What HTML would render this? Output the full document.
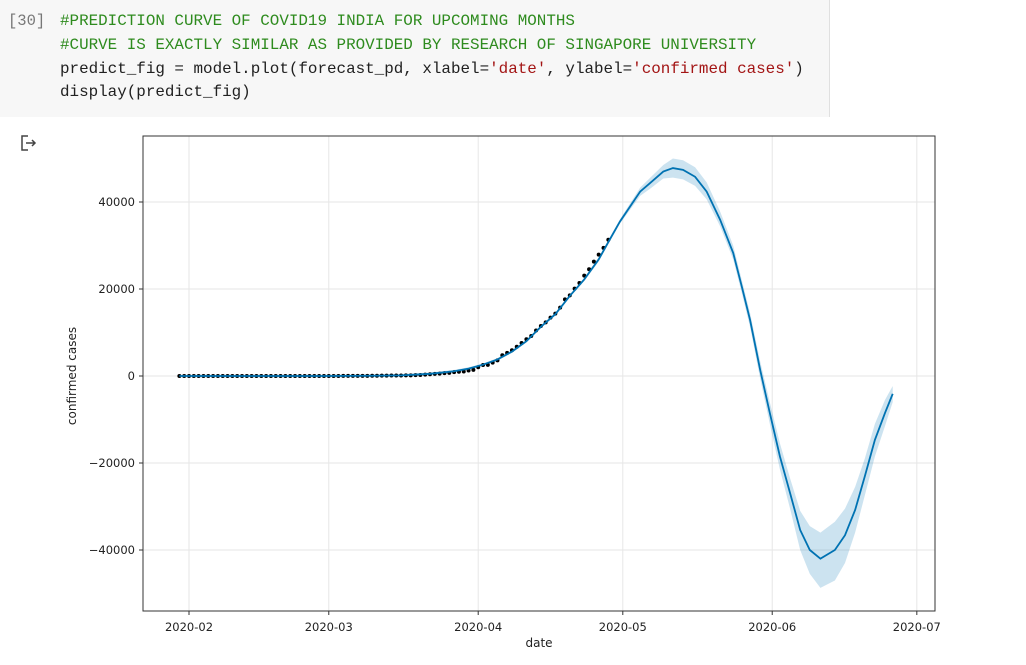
<!DOCTYPE html>
<html><head><meta charset="utf-8"><style>
body{margin:0;width:1026px;height:665px;background:#fff;overflow:hidden;position:relative;font-family:"Liberation Sans",sans-serif}
#cell{position:absolute;left:0;top:0;width:829px;height:117px;background:#f7f7f7;border-right:1px solid #e0e0e0}
.ln{position:absolute;left:60px;font-family:"Liberation Mono",monospace;font-size:15.9px;white-space:pre;color:#212121}
.c{color:#2e8b1e}.s{color:#a31515}
#num{position:absolute;left:8px;top:12px;font-family:"Liberation Mono",monospace;font-size:15.5px;color:#777}
svg{position:absolute;left:0;top:0}
</style></head><body>
<div id="cell">
<div id="num">[30]</div>
<div class="ln c" style="top:12px">#PREDICTION CURVE OF COVID19 INDIA FOR UPCOMING MONTHS</div>
<div class="ln c" style="top:36px">#CURVE IS EXACTLY SIMILAR AS PROVIDED BY RESEARCH OF SINGAPORE UNIVERSITY</div>
<div class="ln" style="top:60px">predict_fig = model.plot(forecast_pd, xlabel=<span class="s">'date'</span>, ylabel=<span class="s">'confirmed cases'</span>)</div>
<div class="ln" style="top:83px">display(predict_fig)</div>
</div>
<svg width="1026" height="665" id="chart">
<g fill="none" stroke="#444" stroke-width="1.5"><path d="M28 136 H22 V150 H28"/><path d="M26 143 H35 M32 140 L35 143 L32 146"/></g>
</svg>
<script>
const obsDays=[];for(let d=-2;d<=87;d++)obsDays.push(d);
const obsVals=[1,1,1,2,3,3,3,3,3,3,3,3,3,3,3,3,3,3,3,3,3,3,3,3,3,3,3,3,3,3,3,
3,5,6,28,30,31,34,39,43,56,62,73,82,102,113,119,142,156,194,244,330,396,499,536,657,727,887,987,1024,1251,1397,
1998,2543,2567,3082,3588,4778,5311,5916,6725,7598,8446,9205,10453,11487,12322,13430,14352,15722,17615,18539,20080,21370,23077,24530,26283,27890,29451,31324];
const fcDays=[-2,28,38,44,50,55,58,61,64,67,70,73,76,79,82,85,87,89.4,93.6,95.6,98.4,100.4,102.5,105,107.4,110.2,112.9,114.7,116.4,118.5,120.5,122.6,124.7,126.8,128.8,131,134,136.1,138.2,140.2,142.3,144.4,146];
const fcVals=[0,0,50,150,500,1100,1700,2600,3800,5600,8000,11300,14200,18400,22200,26800,30800,35500,42400,44300,47000,47800,47400,45800,42400,35900,28300,20500,12900,1400,-8500,-18500,-26900,-35400,-40000,-42000,-40000,-36600,-30800,-23100,-14700,-8500,-4100];
const fcLower=[-300,-300,-250,-150,200,800,1400,2300,3500,5300,7700,11000,13900,18100,21800,26300,30300,35000,41400,43000,45400,45600,45200,43700,40600,34400,26800,19000,11300,-600,-11000,-21500,-30500,-40000,-45500,-48700,-47000,-43000,-36000,-27500,-18500,-11500,-6000];
const fcUpper=[300,300,350,450,800,1400,2000,2900,4100,5900,8300,11600,14500,18700,22600,27300,31300,36000,43300,45500,48500,50000,49600,48000,44500,37800,30000,22000,14500,3400,-6000,-15500,-23500,-31000,-34500,-36000,-33500,-30500,-25500,-19000,-11000,-5500,-2300];
const xTickLabels=["2020-02","2020-03","2020-04","2020-05","2020-06","2020-07"];
const xTickDays=[0,29,60,90,121,151];
const yTicks=[-40000,-20000,0,20000,40000];
const yTickLabels=["\u221240000","\u221220000","0","20000","40000"];

const L=143,R=935,T=136,B=611;
const X=d=>189+d*4.82;
const Y=v=>376-v*87/20000;
const svg=document.getElementById('chart');
const NS='http://www.w3.org/2000/svg';
function mk(tag,attrs,parent){const e=document.createElementNS(NS,tag);for(const k in attrs)e.setAttribute(k,attrs[k]);(parent||svg).appendChild(e);return e;}
const grid=mk('g',{});


xTickDays.forEach((d,i)=>{
  const gl=mk('line',{x1:X(d),x2:X(d),y1:T,y2:B,stroke:'#e6e6e6','stroke-width':1},grid);
  
  
  const tk=mk('line',{x1:X(d),x2:X(d),y1:B,y2:B+4,stroke:'#333'});
  
  
  const t=mk('text',{x:X(d),y:B+20,'text-anchor':'middle','font-size':'11.5',fill:'#222','font-family':'DejaVu Sans,sans-serif'});
  t.textContent=xTickLabels[i];
  
  
});
yTicks.forEach((v,i)=>{
  const gl=mk('line',{x1:L,x2:R,y1:Y(v),y2:Y(v),stroke:'#e6e6e6','stroke-width':1},grid);
  
  
  const tk=mk('line',{x1:L-4,x2:L,y1:Y(v),y2:Y(v),stroke:'#333'});
  
  
  const t=mk('text',{x:L-8,y:Y(v)+4,'text-anchor':'end','font-size':'11.5',fill:'#222','font-family':'DejaVu Sans,sans-serif'});
  t.textContent=yTickLabels[i];
  
  
});
let bp='M'+fcDays.map((d,i)=>X(d)+','+Y(fcUpper[i])).join(' L');
for(let i=fcDays.length-1;i>=0;i--)bp+=' L'+X(fcDays[i])+','+Y(fcLower[i]);
const band=mk('path',{d:bp+'Z',fill:'#0072B2','fill-opacity':0.2,stroke:'none'});


const dots=mk('g',{fill:'#000'});


obsDays.forEach((d,i)=>{
  const c=mk('circle',{cx:X(d),cy:Y(obsVals[i]),r:2},dots);
  
  
});
const line=mk('polyline',{points:fcDays.map((d,i)=>X(d)+','+Y(fcVals[i])).join(' '),fill:'none',stroke:'#0072B2','stroke-width':1.8});


const frame=mk('rect',{x:L,y:T,width:R-L,height:B-T,fill:'none',stroke:'#333','stroke-width':1});


const xl=mk('text',{x:(L+R)/2,y:647,'text-anchor':'middle','font-size':'12',fill:'#222','font-family':'DejaVu Sans,sans-serif'});
xl.textContent='date';


const yl=mk('text',{x:0,y:0,'text-anchor':'middle','font-size':'12',fill:'#222','font-family':'DejaVu Sans,sans-serif',transform:'translate(76,376) rotate(-90)'});
yl.textContent='confirmed cases';


</script>
</body></html>
